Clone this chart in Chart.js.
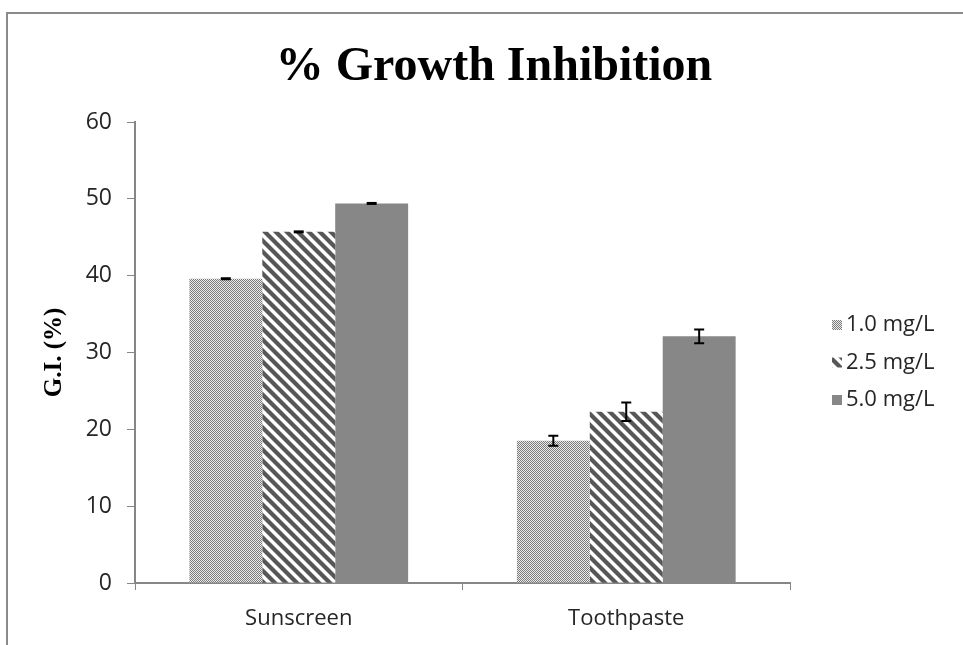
<!DOCTYPE html>
<html>
<head>
<meta charset="utf-8">
<script src="https://cdn.jsdelivr.net/npm/chart.js@4"></script>
<style>
html, body { margin: 0; padding: 0; background: #fff; }
#wrap { position: relative; width: 963px; height: 645px; overflow: hidden; }
#frame { position: absolute; left: 6px; top: 12px; width: 1000px; height: 1000px;
         border-top: 2px solid #8a8a8a; border-left: 2px solid #8a8a8a; }
#chart { position: absolute; left: 0; top: 0; }
</style>
</head>
<body>
<div id="wrap">
  <div id="frame"></div>
  <canvas id="chart" width="963" height="645"></canvas>
</div>
<script>
const categories = ["Sunscreen", "Toothpaste"];
const seriesLabels = ["1.0 mg/L", "2.5 mg/L", "5.0 mg/L"];
const values1 = [39.6, 18.5];
const values25 = [45.7, 22.3];
const values5 = [49.4, 32.1];
const errors1 = [0.2, 0.65];
const errors25 = [0.2, 1.2];
const errors5 = [0.2, 0.9];
const yTicks = [0, 10, 20, 30, 40, 50, 60];

const chartTitle = "% Growth Inhibition";
const yTitle = "G.I. (%)";
const tickFont = { family: "Open Sans", size: 22 };
const axisGray = "#868686";

// small checker, like the dotted fill of the first series
function dotPattern() {
    const c = document.createElement("canvas");
    c.width = 2; c.height = 2;
    const g = c.getContext("2d");
    g.fillStyle = "#ececec";
    g.fillRect(0, 0, 2, 2);
    g.fillStyle = "#7a7a7a";
    g.fillRect(0, 0, 1, 1);
    g.fillRect(1, 1, 1, 1);
    return g.createPattern(c, "repeat");
}

function stripePattern() {
    const s = 11;
    const c = document.createElement("canvas");
    c.width = s; c.height = s;
    const g = c.getContext("2d");
    g.fillStyle = "#ffffff";
    g.fillRect(0, 0, s, s);
    g.strokeStyle = "#575757";
    g.lineWidth = 4.2;
    for (let k = -1; k <= 1; k++) {
        g.beginPath();
        g.moveTo(-2, -2 + k * s);
        g.lineTo(s + 2, s + 2 + k * s);
        g.stroke();
    }
    return g.createPattern(c, "repeat");
}

const errorBars = {
    id: "errorBars",
    afterDatasetsDraw(chart) {
        const ctx = chart.ctx;
        const y = chart.scales.y;
        ctx.save();
        ctx.strokeStyle = "#000";
        ctx.lineWidth = 2;
        chart.data.datasets.forEach((ds, i) => {
            chart.getDatasetMeta(i).data.forEach((bar, j) => {
                const v = ds.data[j], e = ds.errors[j];
                const top = y.getPixelForValue(v + e);
                const bot = y.getPixelForValue(v - e);
                const x = bar.x;
                if (bot - top < 4) {
                    ctx.fillStyle = "#000";
                    ctx.fillRect(x - 5, (top + bot) / 2 - 1.5, 10, 3);
                    return;
                }
                ctx.beginPath();
                ctx.moveTo(x, top); ctx.lineTo(x, bot);
                ctx.moveTo(x - 5, top); ctx.lineTo(x + 5, top);
                ctx.moveTo(x - 5, bot); ctx.lineTo(x + 5, bot);
                ctx.stroke();
            });
        });
        ctx.restore();
    }
};

const decor = {
    id: "decor",
    afterDraw(chart) {
        const ctx = chart.ctx;
        ctx.save();
        ctx.fillStyle = "#000";
        ctx.font = "bold 48px 'Liberation Serif'";
        ctx.textAlign = "center";
        ctx.textBaseline = "alphabetic";
        ctx.fillText(chartTitle, 494, 80);

        ctx.font = "22px 'Open Sans'";
        ctx.textAlign = "left";
        ctx.textBaseline = "middle";
        chart.data.datasets.forEach((ds, i) => {
            const cy = 325 + i * 37.5;
            ctx.fillStyle = ds.backgroundColor;
            ctx.fillRect(832, cy - 5, 10, 10);
            ctx.fillStyle = "#262626";
            ctx.fillText(ds.label, 846, cy);
        });
        ctx.restore();
    }
};

new Chart(document.getElementById("chart"), {
    type: "bar",
    data: {
        labels: categories,
        datasets: [
            { label: seriesLabels[0], data: values1, errors: errors1, backgroundColor: dotPattern() },
            { label: seriesLabels[1], data: values25, errors: errors25, backgroundColor: stripePattern() },
            { label: seriesLabels[2], data: values5, errors: errors5, backgroundColor: "#878787" }
        ]
    },
    options: {
        responsive: false,
        animation: false,
        events: [],
        layout: { padding: { top: 122, right: 173, left: 0, bottom: 0 } },
        datasets: { bar: { categoryPercentage: 0.668, barPercentage: 1, borderWidth: 0 } },
        plugins: { legend: { display: false }, title: { display: false }, tooltip: { enabled: false } },
        scales: {
            x: {
                grid: { drawOnChartArea: false, tickLength: 7, color: axisGray, offset: true },
                border: { color: axisGray, width: 2 },
                ticks: { font: tickFont, color: "#262626", padding: 16 },
                afterFit: s => { s.height = 62; }
            },
            y: {
                min: 0, max: 60,
                afterBuildTicks: s => { s.ticks = yTicks.map(v => ({ value: v })); },
                grid: { drawOnChartArea: false, tickLength: 8, color: axisGray },
                border: { color: axisGray, width: 2 },
                ticks: { font: { family: "Open Sans", size: 23 }, color: "#262626", padding: 15 },
                title: {
                    display: true, text: yTitle, color: "#000",
                    font: { family: "Liberation Serif", size: 25, weight: "bold" },
                    padding: { top: 40, bottom: 0 }
                },
                afterFit: s => { s.width = 135; }
            }
        }
    },
    plugins: [errorBars, decor]
});
</script>
</body>
</html>
